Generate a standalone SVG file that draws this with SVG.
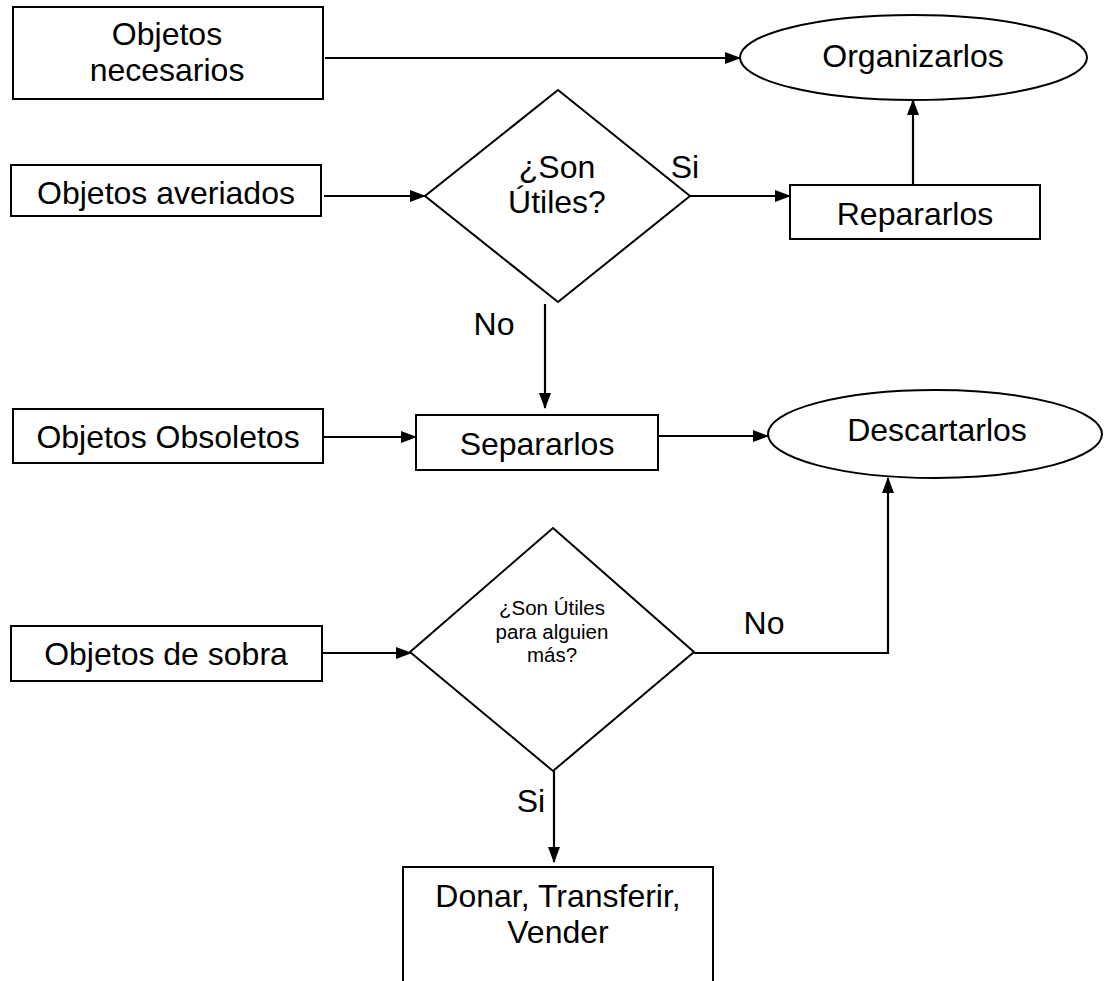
<svg xmlns="http://www.w3.org/2000/svg" width="1104" height="981" viewBox="0 0 1104 981">
<defs>
<marker id="ah" markerWidth="16" markerHeight="12" refX="15" refY="6" orient="auto" markerUnits="userSpaceOnUse">
<path d="M0,0 L16,6 L0,12 Z" fill="#000"/>
</marker>
<style>
.shape{fill:#fff;stroke:#000;stroke-width:2}
.t{font-family:"Liberation Sans",Arial,sans-serif;font-size:32px;fill:#000;text-anchor:middle}
.s{font-family:"Liberation Sans",Arial,sans-serif;font-size:20.5px;fill:#000;text-anchor:middle}
.c{fill:none;stroke:#000;stroke-width:2.2}
</style>
</defs>
<rect width="1104" height="981" fill="#fff"/>
<g id="connectors">
<line class="c" x1="325" y1="58" x2="740" y2="58" marker-end="url(#ah)"/>
<line class="c" x1="324" y1="196" x2="425" y2="196" marker-end="url(#ah)"/>
<line class="c" x1="690" y1="196" x2="790" y2="196" marker-end="url(#ah)"/>
<line class="c" x1="913" y1="184" x2="913" y2="100" marker-end="url(#ah)"/>
<line class="c" x1="545" y1="304" x2="545" y2="408" marker-end="url(#ah)"/>
<line class="c" x1="324" y1="437" x2="416" y2="437" marker-end="url(#ah)"/>
<line class="c" x1="658" y1="436" x2="768" y2="436" marker-end="url(#ah)"/>
<line class="c" x1="323" y1="653" x2="411" y2="653" marker-end="url(#ah)"/>
<polyline class="c" points="694,653 888,653 888,478" marker-end="url(#ah)"/>
<line class="c" x1="554" y1="771" x2="554" y2="862" marker-end="url(#ah)"/>
<text class="t" x="685" y="178">Si</text>
<text class="t" x="494" y="335">No</text>
<text class="t" x="764" y="634">No</text>
<text class="t" x="531" y="812">Si</text>
</g>
<g id="necesarios">
<rect class="shape" x="13" y="7" width="310" height="92"/>
<text class="t" x="167" y="45">Objetos</text>
<text class="t" x="167" y="81">necesarios</text>
</g>
<g id="organizarlos">
<ellipse class="shape" cx="913.5" cy="57.5" rx="173.5" ry="42.5"/>
<text class="t" x="913" y="67">Organizarlos</text>
</g>
<g id="averiados">
<rect class="shape" x="11" y="165" width="310" height="51"/>
<text class="t" x="166" y="204">Objetos averiados</text>
</g>
<g id="utiles1">
<polygon class="shape" points="558,90 690,196 558,302 425,196"/>
<text class="t" x="557" y="178">¿Son</text>
<text class="t" x="557" y="213">Útiles?</text>
</g>
<g id="repararlos">
<rect class="shape" x="790" y="185" width="250" height="54"/>
<text class="t" x="915" y="225">Repararlos</text>
</g>
<g id="obsoletos">
<rect class="shape" x="13" y="409" width="310" height="54"/>
<text class="t" x="168" y="448">Objetos Obsoletos</text>
</g>
<g id="separarlos">
<rect class="shape" x="416" y="415" width="242" height="55"/>
<text class="t" x="537" y="455">Separarlos</text>
</g>
<g id="descartarlos">
<ellipse class="shape" cx="935" cy="434" rx="167" ry="44"/>
<text class="t" x="937" y="441">Descartarlos</text>
</g>
<g id="sobra">
<rect class="shape" x="11" y="626" width="311" height="55"/>
<text class="t" x="166" y="665">Objetos de sobra</text>
</g>
<g id="utiles2">
<polygon class="shape" points="553,528 694,652 553,771 410,652"/>
<text class="s" x="552" y="615">¿Son Útiles</text>
<text class="s" x="552" y="639">para alguien</text>
<text class="s" x="552" y="662">más?</text>
</g>
<g id="donar">
<rect class="shape" x="403" y="867" width="310" height="140"/>
<text class="t" x="558" y="907">Donar, Transferir,</text>
<text class="t" x="558" y="943">Vender</text>
</g>
</svg>
